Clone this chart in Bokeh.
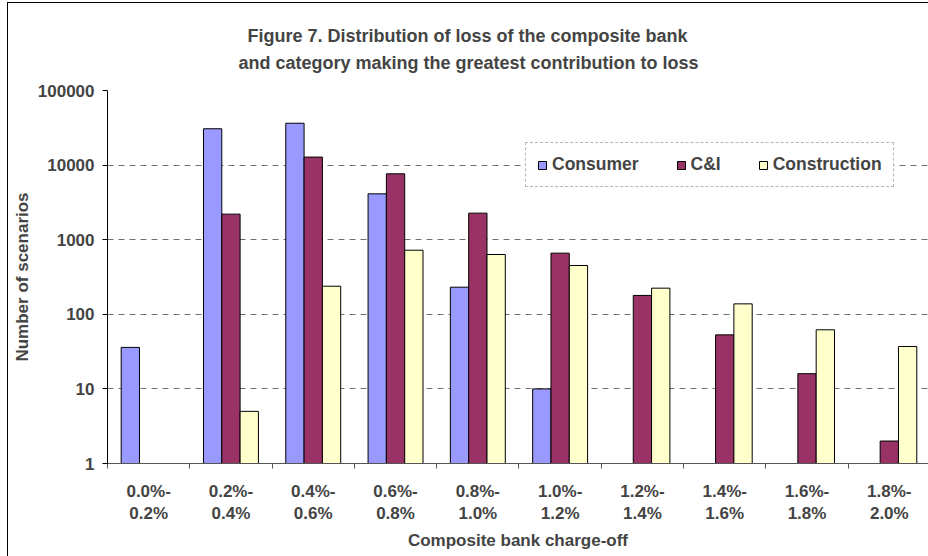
from bokeh.plotting import figure
from bokeh.models import (ColumnDataSource, FixedTicker, Range1d, Legend, LegendItem,
                          Title, NumeralTickFormatter)
from bokeh.embed import file_html
from bokeh.resources import INLINE

NAN = float("nan")

categories = ["0.0%-\n0.2%", "0.2%-\n0.4%", "0.4%-\n0.6%", "0.6%-\n0.8%", "0.8%-\n1.0%",
              "1.0%-\n1.2%", "1.2%-\n1.4%", "1.4%-\n1.6%", "1.6%-\n1.8%", "1.8%-\n2.0%"]
consumer = [36, 30700, 36400, 4120, 231, 10, NAN, NAN, NAN, NAN]
c_and_i = [NAN, 2200, 12800, 7640, 2270, 660, 179, 53, 16, 2]
construction = [NAN, 5, 238, 723, 633, 451, 224, 138, 62, 37]
series_names = ["Consumer", "C&I", "Construction"]
series_colors = ["#9999FF", "#993366", "#FFFFCC"]
y_ticks = [1, 10, 100, 1000, 10000, 100000]

FONT = "Liberation Sans"
BAR_W = 0.2225

p = figure(width=928, height=556, output_backend="svg", toolbar_location=None,
           x_range=Range1d(0, 9.976), y_range=Range1d(1, 100000), y_axis_type="log",
           min_border_left=107, min_border_right=0, min_border_top=90, min_border_bottom=93)
p.border_fill_color = None
p.background_fill_color = "white"
p.outline_line_color = None
p.styles = {"box-shadow": "inset 7px 2px 0 0 #ffffff, inset 8px 3px 0 0 #000000"}

centers = [i + 0.5 for i in range(len(categories))]
src = ColumnDataSource(dict(
    x=centers,
    x0=[c - BAR_W for c in centers],
    x2=[c + BAR_W for c in centers],
    consumer=consumer, cni=c_and_i, construction=construction,
))

renderers = []
for xcol, ycol, color in zip(["x0", "x", "x2"], ["consumer", "cni", "construction"], series_colors):
    r = p.vbar(x=xcol, top=ycol, bottom=1, width=BAR_W, source=src,
               fill_color=color, line_color="black", line_width=1)
    renderers.append(r)

# titles (added bottom-up)
t2 = Title(text="and category making the greatest contribution to loss", align="left",
           text_font=FONT, text_font_size="18px", text_font_style="bold", offset=131,
           standoff=36)
t1 = Title(text="Figure 7. Distribution of loss of the composite bank", align="left",
           text_font=FONT, text_font_size="18px", text_font_style="bold", offset=140,
           standoff=-26)
p.add_layout(t2, "above")
p.add_layout(t1, "above")

# y axis
ya = p.yaxis[0]
ya.ticker = FixedTicker(ticks=y_ticks)
ya.formatter = NumeralTickFormatter(format="0")
ya.axis_label = "Number of scenarios"
ya.axis_label_text_font = FONT
ya.axis_label_text_font_size = "17px"
ya.axis_label_text_font_style = "bold"
ya.axis_label_standoff = 3
ya.major_label_text_font = FONT
ya.major_label_text_font_size = "17px"
ya.major_label_text_font_style = "bold"
ya.major_label_standoff = 8
ya.major_tick_out = 5
ya.major_tick_in = 0
ya.minor_tick_line_color = None
ya.axis_line_color = "black"
ya.major_tick_line_color = "black"

# x axis
xa = p.xaxis[0]
xa.ticker = FixedTicker(ticks=centers, minor_ticks=list(range(len(categories))))
xa.major_label_overrides = {c: lab for c, lab in zip(centers, categories)}
xa.major_tick_line_color = None
xa.minor_tick_out = 5
xa.minor_tick_in = 0
xa.minor_tick_line_color = "#555555"
xa.axis_line_color = "#555555"
xa.major_label_text_font = FONT
xa.major_label_text_font_size = "17px"
xa.major_label_text_font_style = "bold"
xa.major_label_standoff = 12
xa.axis_label = "Composite bank charge-off"
xa.axis_label_text_font = FONT
xa.axis_label_text_font_size = "17px"
xa.axis_label_text_font_style = "bold"
xa.axis_label_standoff = 5

p.xgrid.grid_line_color = None
p.ygrid.ticker = FixedTicker(ticks=y_ticks)
p.ygrid.grid_line_color = "#707070"
p.ygrid.grid_line_dash = "6 5"
p.ygrid.grid_line_width = 1
p.ygrid.minor_grid_line_color = None

legend = Legend(items=[LegendItem(label=n, renderers=[r]) for n, r in zip(series_names, renderers)],
                orientation="horizontal", location=(418, 276),
                glyph_width=10, glyph_height=10, label_standoff=5, spacing=37,
                padding=11, margin=0, label_height=10,
                label_text_font=FONT, label_text_font_size="17.5px", label_text_font_style="bold",
                border_line_color="#707070", border_line_dash="6 4", border_line_width=1,
                background_fill_color="white", background_fill_alpha=1)
p.add_layout(legend, "center")

open("out.html", "w").write(file_html(p, INLINE))
